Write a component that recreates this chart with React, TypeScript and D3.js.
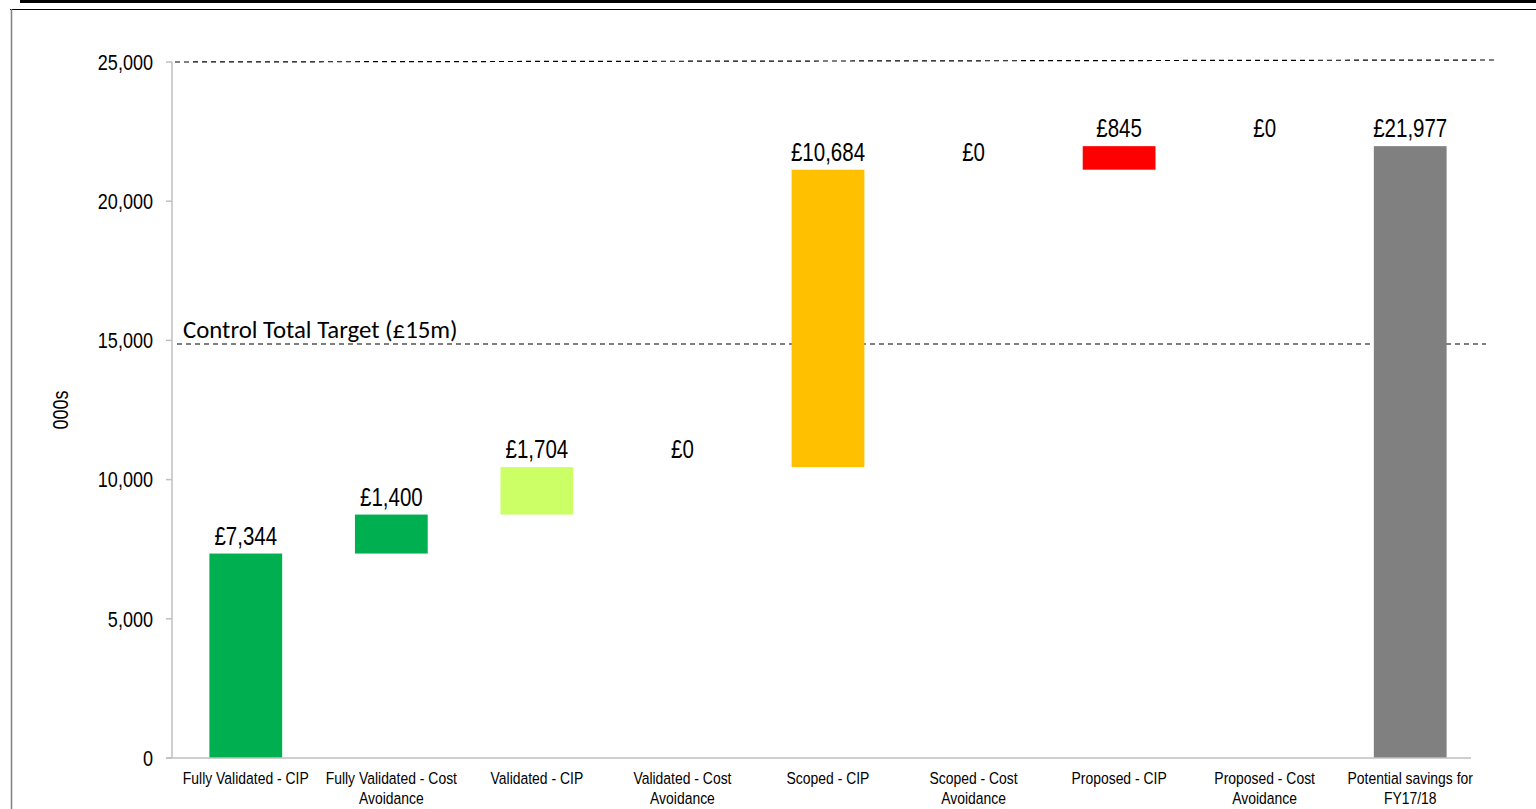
import React from "react";
import * as d3 from "d3";

const categories = [
  ["Fully Validated - CIP"],
  ["Fully Validated - Cost", "Avoidance"],
  ["Validated - CIP"],
  ["Validated - Cost", "Avoidance"],
  ["Scoped - CIP"],
  ["Scoped - Cost", "Avoidance"],
  ["Proposed - CIP"],
  ["Proposed - Cost", "Avoidance"],
  ["Potential savings for", "FY17/18"],
];
const values = [7344, 1400, 1704, 0, 10684, 0, 845, 0, 21977];
const isTotal = [false, false, false, false, false, false, false, false, true];
const colors = ["#00B050", "#00B050", "#CCFF66", "#CCFF66", "#FFC000", "#FFC000", "#FF0000", "#FF0000", "#808080"];
const yTicks = [0, 5000, 10000, 15000, 20000, 25000];
const maxLine = 25000;
const targetValue = 14870;
const targetLabel = "Control Total Target (£15m)";

const FONT = "'Liberation Sans', Arial, sans-serif";
const SX = 0.82;

function NText(props: { x: number; y: number; size: number; anchor?: string; rotate?: number; lines: string[]; lineH?: number; dy?: string }) {
  const { x, y, size, anchor = "middle", rotate = 0, lines, lineH = 20, dy } = props;
  return (
    <text transform={`translate(${x},${y}) rotate(${rotate}) scale(${SX},1)`} textAnchor={anchor} fontFamily={FONT} fontSize={size} fill="#000" dy={dy}>
      {lines.map((l, j) => (
        <tspan key={j} x={0} dy={j === 0 ? (dy || 0) : lineH / 1}>{l}</tspan>
      ))}
    </text>
  );
}

export default function App() {
  const W = 1536, H = 809;
  const x = d3.scaleBand<number>().domain(d3.range(categories.length)).range([173, 1483]).paddingInner(0.5).paddingOuter(0.25);
  const y = d3.scaleLinear().domain([0, 25000]).range([758, 62]);
  const fmt = d3.format(",");

  let running = 0;
  const bars = values.map((v, i) => {
    let lo: number, hi: number;
    if (isTotal[i]) { lo = 0; hi = v; }
    else { lo = running; hi = running + v; running = hi; }
    return { i, lo, hi, v };
  });
  const cx = (i: number) => (x(i) as number) + x.bandwidth() / 2;

  return (
    <svg width={W} height={H} style={{ position: "absolute", left: 0, top: 0, display: "block", background: "#fff" }}>
      {/* frame */}
      <rect x={20} y={0} width={W - 20} height={3} fill="#000" />
      <line x1={10} x2={W} y1={9.5} y2={9.5} stroke="#000" strokeWidth={1} />
      <line x1={11.5} x2={11.5} y1={9} y2={H} stroke="#808080" strokeWidth={1.5} />

      {/* dashed reference lines */}
      <line x1={175} x2={1496} y1={y(maxLine)} y2={y(maxLine) - 2} stroke="#000" strokeWidth={1.2} strokeDasharray="5,4" />
      <line x1={177} x2={1486} y1={y(targetValue)} y2={y(targetValue)} stroke="#000" strokeWidth={1.2} strokeDasharray="5,4" />
      <text x={183} y={y(targetValue) - 6} fontFamily="Carlito, Calibri, 'Open Sans', sans-serif" fontSize={24.8} fill="#000">{targetLabel}</text>

      {/* bars */}
      {bars.map((b) => (
        b.v > 0 ? (
          <rect key={b.i} x={x(b.i)} width={x.bandwidth()} y={y(b.hi)} height={y(b.lo) - y(b.hi)} fill={colors[b.i]} />
        ) : null
      ))}
      {bars.map((b) => (
        <NText key={"l" + b.i} x={cx(b.i)} y={y(b.hi) - 9} size={25} lines={["£" + fmt(b.v)]} />
      ))}

      {/* y axis */}
      <line x1={172} x2={172} y1={y(25000)} y2={y(0)} stroke="#BFBFBF" strokeWidth={1.5} />
      {yTicks.map((t) => (
        <g key={t}>
          <line x1={166} x2={172} y1={y(t)} y2={y(t)} stroke="#BFBFBF" strokeWidth={1.5} />
          <NText x={153} y={y(t)} size={22} anchor="end" dy="0.35em" lines={[fmt(t)]} />
        </g>
      ))}
      <NText x={68} y={(y(0) + y(25000)) / 2} size={22} rotate={-90} lines={["000s"]} />

      {/* x axis */}
      <line x1={166} x2={1471} y1={y(0)} y2={y(0)} stroke="#BFBFBF" strokeWidth={1.5} />
      {categories.map((c, i) => (
        <NText key={"c" + i} x={cx(i)} y={784} size={17} lines={c} lineH={20} />
      ))}
    </svg>
  );
}
